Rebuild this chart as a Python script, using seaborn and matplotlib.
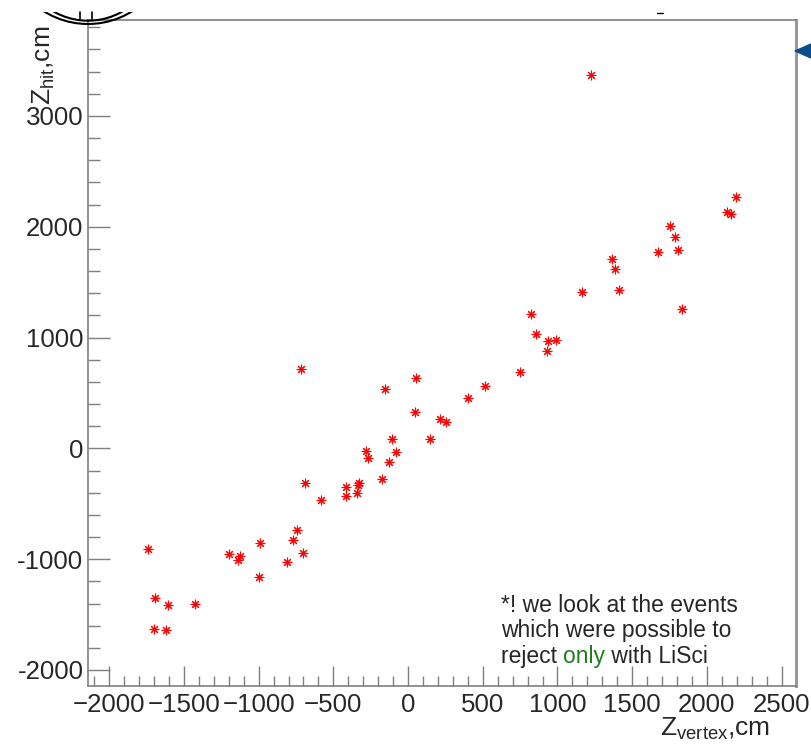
import numpy as np
import pandas as pd
import matplotlib
matplotlib.use("Agg")
import matplotlib.pyplot as plt
import matplotlib.patches as mpatches
from matplotlib.ticker import MultipleLocator, FixedLocator, FixedFormatter
from matplotlib.transforms import IdentityTransform, Bbox
import seaborn as sns

# Z of the vertex and Z of the hit, cm
z_vertex = [-1741, -1696, -1701, -1607, -1622, -1424, -1199, -1140, -1123, -991,
            -998, -812, -772, -746, -719, -701, -688, -585, -416, -416,
            -344, -337, -331, -284, -268, -177, -155, -126, -108, -81,
            48, 53, 145, 213, 252, 401, 515, 749, 821, 856,
            928, 936, 990, 1167, 1222, 1363, 1387, 1413, 1674, 1755,
            1788, 1804, 1831, 2136, 2163, 2197]
z_hit = [-908, -1353, -1633, -1416, -1639, -1407, -950, -1005, -974, -854,
         -1158, -1023, -824, -734, 717, -944, -315, -466, -351, -427,
         -405, -330, -310, -23, -89, -276, 533, -125, 88, -35,
         329, 638, 88, 263, 238, 452, 566, 692, 1213, 1035,
         882, 967, 978, 1410, 3370, 1707, 1616, 1430, 1770, 2010,
         1911, 1791, 1261, 2136, 2116, 2269]

x_ticks = [-2000, -1500, -1000, -500, 0, 500, 1000, 1500, 2000, 2500]
x_tick_labels = ["\u22122000", "\u22121500", "\u22121000", "\u2212500", "0",
                 "500", "1000", "1500", "2000", "2500"]
y_ticks = [-2000, -1000, 0, 1000, 2000, 3000]
y_tick_labels = ["-2000", "-1000", "0", "1000", "2000", "3000"]

note_lines = ["*! we look at the events", "which were possible to"]
note_last = ["reject ", "only", " with LiSci"]

df = pd.DataFrame({"zv": z_vertex, "zh": z_hit})

sns.set_style("ticks")
plt.rcParams['font.family'] = ['Liberation Sans', 'DejaVu Sans']
plt.rcParams['mathtext.fontset'] = 'custom'
plt.rcParams['mathtext.rm'] = 'Liberation Sans'

fig = plt.figure(figsize=(8.11, 7.46), dpi=100)
ax = fig.add_axes([0.1089, 0.0808, 0.8722, 0.8924])

sns.scatterplot(data=df, x="zv", y="zh", ax=ax, marker=(8, 2, 0), color="red",
                s=40, linewidth=0.8, legend=False)

ax.set_xlim(-2140, 2594)
ax.set_ylim(-2142, 3866)

ax.xaxis.set_major_locator(FixedLocator(x_ticks))
ax.xaxis.set_major_formatter(FixedFormatter(x_tick_labels))
ax.yaxis.set_major_locator(FixedLocator(y_ticks))
ax.yaxis.set_major_formatter(FixedFormatter(y_tick_labels))
ax.xaxis.set_minor_locator(MultipleLocator(100))
ax.yaxis.set_minor_locator(MultipleLocator(200))

grey = "#7f7f7f"
ax.tick_params(axis="x", which="major", direction="in", length=14.5, width=1.0,
               color=grey, labelsize=18.6, pad=5, top=False)
ax.tick_params(axis="x", which="minor", direction="in", length=7.5, width=1.0,
               color=grey, top=False)
ax.tick_params(axis="y", which="major", direction="in", length=16, width=1.0,
               color=grey, labelsize=18.6, pad=3.5, right=False)
ax.tick_params(axis="y", which="minor", direction="in", length=8.5, width=1.0,
               color=grey, right=False)

for side in ["left", "bottom", "top"]:
    ax.spines[side].set_color(grey)
    ax.spines[side].set_linewidth(1.2)
ax.spines["right"].set_color("#999999")
ax.spines["right"].set_linewidth(2.2)

ax.set_xlabel("Z$_{\\mathregular{vertex}}$,cm", fontsize=19, loc="right")
ax.xaxis.set_label_coords(0.964, -0.044)
ax.set_ylabel("Z$_{\\mathregular{hit}}$,cm", fontsize=19, loc="top")
ax.yaxis.set_label_coords(-0.044, 0.991)

# note in the lower right corner
note_x = 620
note_y = [-1474, -1700, -1935]
for line, yy in zip(note_lines, note_y):
    ax.text(note_x, yy, line, fontsize=16.5, va="baseline", ha="left")
t1 = ax.text(note_x, note_y[2], note_last[0], fontsize=16.5, va="baseline", ha="left")
t2 = ax.annotate(note_last[1], xy=(1, 0), xycoords=t1, fontsize=16.5,
                 va="bottom", ha="left", color="#1f7f1f")
ax.annotate(note_last[2], xy=(1, 0), xycoords=t2, fontsize=16.5,
            va="bottom", ha="left")

# bits of the slide around the plot (cut logo top left, arrow on the right)
ident = IdentityTransform()
clip = Bbox([[0, 719], [811, 734]])
for cy, r in [(805, 83), (794.3, 69)]:
    arc = mpatches.Circle((88, cy), r, transform=ident, fill=False,
                          edgecolor="black", linewidth=1.5)
    arc.set_clip_box(clip)
    fig.add_artist(arc)
for xx in [79.5, 91.5]:
    fig.add_artist(plt.Line2D([xx, xx], [727, 734], transform=ident,
                              color="black", linewidth=1.2))
fig.add_artist(mpatches.Polygon([[795, 695], [811, 702], [811, 688]],
                                closed=True, transform=ident, color="#0b4d8a"))
fig.add_artist(plt.Line2D([657, 663], [733, 733], transform=ident,
                          color="black", linewidth=1.0))

fig.savefig("out.png", dpi=100)
